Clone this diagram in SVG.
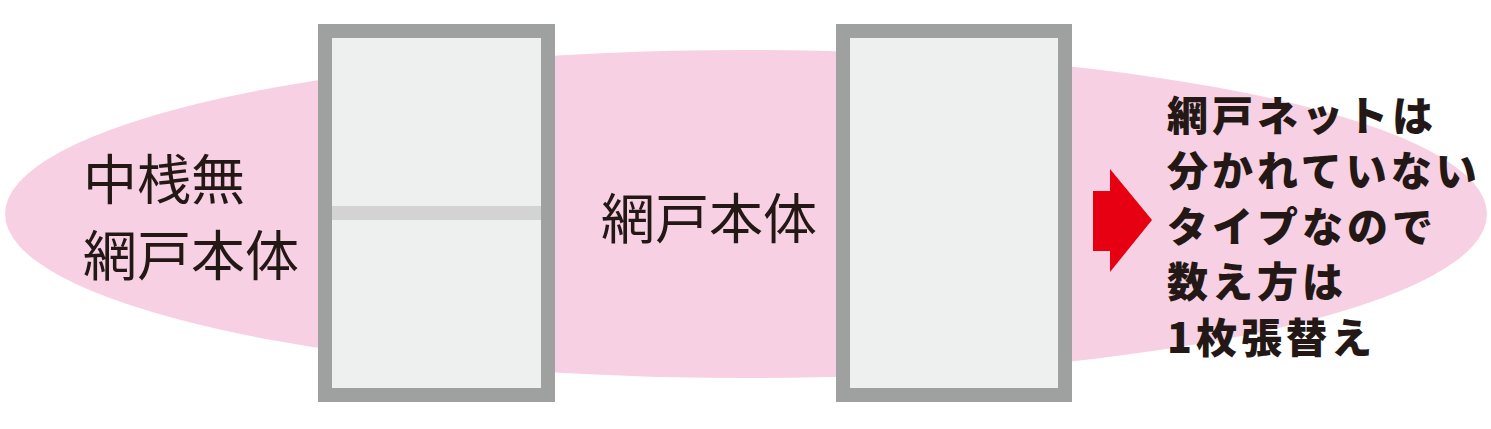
<svg xmlns="http://www.w3.org/2000/svg" width="1491" height="429" viewBox="0 0 1491 429">
<style>
.frame{fill:#eeefef;stroke:#9fa0a0;stroke-width:14}
.label{font-family:"Noto Sans CJK JP","Noto Sans",sans-serif;font-size:54px;fill:#231815}
.bold{font-family:"Noto Sans CJK JP","Noto Sans",sans-serif;font-size:41px;font-weight:900;fill:#231815;letter-spacing:4px}
</style>
<rect width="1491" height="429" fill="#ffffff"/>
<g id="background">
<ellipse cx="746" cy="214" rx="741" ry="164" fill="#f7d1e3"/>
</g>
<g id="left-label">
<text class="label" x="83" y="200">中桟無</text>
<text class="label" x="83" y="276">網戸本体</text>
</g>
<g id="left-door">
<rect class="frame" x="325" y="31" width="223" height="364"/>
<rect x="332" y="206" width="209" height="14" fill="#d3d3d3"/>
</g>
<g id="middle-label">
<text class="label" x="601" y="239">網戸本体</text>
</g>
<g id="right-door">
<rect class="frame" x="843" y="31" width="222" height="364"/>
</g>
<g id="connectors">
<polygon points="1093,191 1110,191 1110,169 1152,220 1110,272 1110,251 1093,251" fill="#e60012"/>
</g>
<g id="right-label">
<text class="bold" x="1167" y="131">網戸ネットは</text>
<text class="bold" x="1167" y="186">分かれていない</text>
<text class="bold" x="1167" y="242">タイプなので</text>
<text class="bold" x="1167" y="297">数え方は</text>
<text class="bold" x="1167" y="353">1枚張替え</text>
</g>
</svg>
